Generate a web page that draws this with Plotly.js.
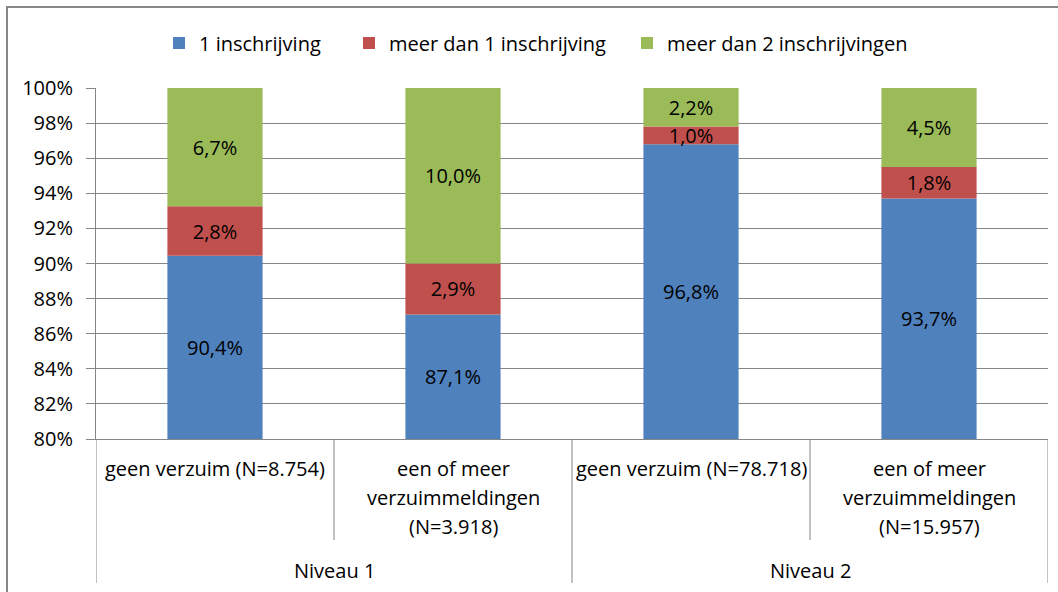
<!DOCTYPE html>
<html>
<head>
<meta charset="utf-8">
<script src="https://cdn.plot.ly/plotly-3.0.1.min.js"></script>
<style>
  html, body { margin: 0; padding: 0; background: #fff; }
  #chart { width: 1058px; height: 592px; }
</style>
</head>
<body>
<div id="chart"></div>
<script>
// ---- data ----
const groups = ['Niveau 1', 'Niveau 1', 'Niveau 2', 'Niveau 2'];
const categories = [
  'geen verzuim (N=8.754)',
  'een of meer\nverzuimmeldingen\n(N=3.918)',
  'geen verzuim (N=78.718)',
  'een of meer\nverzuimmeldingen\n(N=15.957)'
];
const seriesNames = ['1 inschrijving', 'meer dan 1 inschrijving', 'meer dan 2 inschrijvingen'];
const oneEnrolment = [90.44, 87.1, 96.8, 93.7];
const moreThanOne = [2.82, 2.9, 1.0, 1.8];
const moreThanTwo = [6.74, 10.0, 2.2, 4.5];
const yTicks = [80, 82, 84, 86, 88, 90, 92, 94, 96, 98, 100];
const yTickLabels = ['80%', '82%', '84%', '86%', '88%', '90%', '92%', '94%', '96%', '98%', '100%'];

// ---- styling ----
const colors = ['#4F81BD', '#C0504D', '#9BBB59'];
const FONT = '"Open Sans", Lato, sans-serif';
const FS = 20;
const lineCol = '#868686';
const axisMin = yTicks[0], axisMax = yTicks[yTicks.length - 1];

const L = 96, R = 10, T = 88, B = 153;
const W = 1058, H = 592;
const plotW = W - L - R, plotH = H - T - B;
const px2py = p => -p / plotH; // pixels below plot bottom -> paper y
const px2px = p => (p - L) / plotW; // page x pixel -> paper x

const xIdx = categories.map((_, i) => i);
const seriesVals = [oneEnrolment, moreThanOne, moreThanTwo];

// bases: visible part of each stacked segment (first segment starts at the axis floor)
const bases = [
  oneEnrolment.map(() => axisMin),
  oneEnrolment.slice(),
  oneEnrolment.map((v, i) => v + moreThanOne[i])
];
const heights = [
  oneEnrolment.map(v => v - axisMin),
  moreThanOne.slice(),
  moreThanTwo.slice()
];

const legendIds = ['legend', 'legend2', 'legend3'];
const legendLeftPx = [159, 349, 627];

const traces = seriesVals.map((vals, k) => ({
  type: 'bar',
  name: seriesNames[k],
  legend: legendIds[k],
  x: xIdx,
  y: heights[k],
  base: bases[k],
  customdata: vals,
  width: 0.4,
  marker: { color: colors[k], line: { width: 0 } },
  texttemplate: '%{customdata:.1f}%',
  textposition: 'inside',
  insidetextanchor: 'middle',
  textangle: 0,
  constraintext: 'none',
  textfont: { family: FONT, size: FS, color: '#000' },
  hoverinfo: 'skip'
}));

const annotations = [];
categories.forEach((c, i) => {
  c.split('\n').forEach((line, j) => {
    annotations.push({
      xref: 'x', yref: 'paper', x: i, y: px2py(29 + 29 * j),
      text: line, showarrow: false, xanchor: 'center', yanchor: 'middle',
      font: { family: FONT, size: FS, color: '#000' }
    });
  });
});
const uniqGroups = [...new Set(groups)];
uniqGroups.forEach(g => {
  const idx = xIdx.filter(i => groups[i] === g);
  const cx = idx.reduce((a, b) => a + b, 0) / idx.length;
  annotations.push({
    xref: 'x', yref: 'paper', x: cx, y: px2py(131),
    text: g, showarrow: false, xanchor: 'center', yanchor: 'middle',
    font: { family: FONT, size: FS, color: '#000' }
  });
});

const shapes = [];
// separators between categories
for (let i = 0; i <= categories.length; i++) {
  const b = i - 0.5;
  const isGroupEdge = (i === 0 || i === categories.length || groups[i] !== groups[i - 1]);
  shapes.push({
    type: 'line', xref: 'x', yref: 'paper', x0: b, x1: b, y0: 0,
    y1: isGroupEdge ? px2py(144) : px2py(101),
    line: { color: lineCol, width: 1 }
  });
}
// outer chart frame
shapes.push({
  type: 'rect', xref: 'paper', yref: 'paper',
  x0: px2px(7), x1: px2px(W + 20),
  y0: px2py(B + 40), y1: 1 + (T - 7) / plotH,
  line: { color: '#878787', width: 2 }, fillcolor: 'rgba(0,0,0,0)'
});

const layout = {
  width: W, height: H,
  margin: { l: L, r: R, t: T, b: B },
  paper_bgcolor: '#fff', plot_bgcolor: '#fff',
  barmode: 'overlay',
  separators: ',.',
  showlegend: true,
  uniformtext: { mode: 'show', minsize: FS },
  font: { family: FONT, size: FS, color: '#000' },
  xaxis: {
    range: [-0.5, categories.length - 0.5],
    showticklabels: false, ticks: '', showgrid: false, zeroline: false,
    showline: true, linecolor: lineCol, linewidth: 1, fixedrange: true
  },
  yaxis: {
    range: [axisMin, axisMax], tickmode: 'array', tickvals: yTicks, ticktext: yTickLabels,
    showgrid: true, gridcolor: lineCol, gridwidth: 1,
    ticks: 'outside', ticklen: 9, tickcolor: lineCol, tickwidth: 1,
    ticklabelstandoff: 9,
    showline: true, linecolor: lineCol, linewidth: 1, zeroline: false,
    tickfont: { family: FONT, size: FS, color: '#000' }, fixedrange: true
  },
  shapes: shapes,
  annotations: annotations
};
legendIds.forEach((id, k) => {
  layout[id] = {
    orientation: 'h', x: px2px(legendLeftPx[k]), xanchor: 'left',
    y: 1 + (T - 43) / plotH, yanchor: 'middle',
    itemwidth: 30,
    font: { family: FONT, size: FS, color: '#000' },
    bgcolor: 'rgba(0,0,0,0)', borderwidth: 0
  };
});

Plotly.newPlot('chart', traces, layout, { displayModeBar: false, staticPlot: true });
</script>
</body>
</html>
